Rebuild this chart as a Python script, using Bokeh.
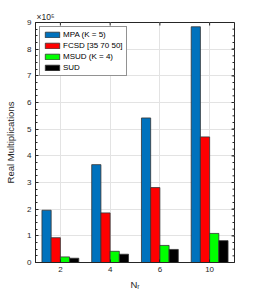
from bokeh.plotting import figure
from bokeh.models import (ColumnDataSource, FixedTicker, Range1d, Title,
                          Legend, LegendItem)
from bokeh.embed import file_html
from bokeh.resources import INLINE

nr_labels = ["2", "4", "6", "10"]
series_names = ["MPA (K = 5)", "FCSD [35 70 50]", "MSUD (K = 4)", "SUD"]
mpa = [1.96e5, 3.67e5, 5.42e5, 8.84e5]
fcsd = [0.93e5, 1.86e5, 2.81e5, 4.71e5]
msud = [0.21e5, 0.42e5, 0.64e5, 1.09e5]
sud = [0.16e5, 0.31e5, 0.49e5, 0.82e5]
colors = ["#0072BD", "#FF0000", "#00FF00", "#000000"]
y_ticks = [0, 1, 2, 3, 4, 5, 6, 7, 8, 9]
scale = 1e5

FONT = "Liberation Sans"
AX = "#262626"

p = figure(width=259, height=295, output_backend="svg", toolbar_location=None,
           x_range=Range1d(0.5, 4.5), y_range=Range1d(0, 9e5),
           min_border_left=35, min_border_right=25, min_border_top=22,
           min_border_bottom=33)
p.background_fill_color = "white"
p.border_fill_color = "white"
p.outline_line_color = AX
p.outline_line_width = 1

xs = list(range(1, len(nr_labels) + 1))
bw = 0.185
offsets = [-1.5, -0.5, 0.5, 1.5]
renderers = []
for vals, off, col in zip([mpa, fcsd, msud, sud], offsets, colors):
    src = ColumnDataSource(dict(x=[x + off * bw for x in xs], top=vals))
    r = p.vbar(x="x", top="top", width=bw, bottom=0, source=src,
               fill_color=col, line_color="#333333", line_width=0.8)
    renderers.append(r)

major_y = [t * scale for t in y_ticks]
minor_y = [t * scale / 4 for t in range(0, 4 * y_ticks[-1] + 1)]

# axes
xa = p.xaxis[0]
xa.ticker = FixedTicker(ticks=xs)
xa.major_label_overrides = {x: l for x, l in zip(xs, nr_labels)}
xa.axis_label = "Nᵣ"
xa.axis_label_text_font = FONT
xa.axis_label_text_font_size = "9.5px"
xa.axis_label_text_font_style = "normal"
xa.axis_label_text_color = AX
xa.axis_label_standoff = 4

ya = p.yaxis[0]
ya.ticker = FixedTicker(ticks=major_y, minor_ticks=minor_y)
ya.major_label_overrides = {t * scale: str(t) for t in y_ticks}
ya.axis_label = "Real Multiplications"
ya.axis_label_text_font = FONT
ya.axis_label_text_font_size = "9.5px"
ya.axis_label_text_font_style = "normal"
ya.axis_label_text_color = AX
ya.axis_label_standoff = 8

for ax in [xa, ya]:
    ax.axis_line_color = AX
    ax.major_tick_line_color = AX
    ax.minor_tick_line_color = AX
    ax.major_tick_in = 3
    ax.major_tick_out = 0
    ax.minor_tick_in = 2
    ax.minor_tick_out = 0
    ax.major_label_text_font = FONT
    ax.major_label_text_font_size = "8px"
    ax.major_label_text_color = AX
    ax.major_label_standoff = 4
xa.minor_tick_line_color = None

# mirrored ticks on top and right (inward), derived from tick arrays
xr0, xr1 = p.x_range.start, p.x_range.end
yr1 = p.y_range.end
px_x = (xr1 - xr0) / 199.0
px_y = yr1 / 240.0
p.segment(x0=[xr1] * len(major_y), y0=major_y, x1=[xr1 - 3 * px_x] * len(major_y),
          y1=major_y, line_color=AX, line_width=1)
p.segment(x0=[xr1] * len(minor_y), y0=minor_y, x1=[xr1 - 2 * px_x] * len(minor_y),
          y1=minor_y, line_color=AX, line_width=1)
p.segment(x0=xs, y0=[yr1] * len(xs), x1=xs, y1=[yr1 - 3 * px_y] * len(xs),
          line_color=AX, line_width=1)

p.xgrid.ticker = FixedTicker(ticks=xs)
p.ygrid.ticker = FixedTicker(ticks=major_y)
p.xgrid.grid_line_color = "#e3e3e3"
p.ygrid.grid_line_color = "#e3e3e3"

# multiplier
t = Title(text="×10⁵", align="left", offset=1, standoff=2, text_font=FONT,
          text_font_size="8.5px", text_font_style="normal", text_color=AX)
p.add_layout(t, "above")

legend = Legend(items=[LegendItem(label=n, renderers=[r]) for n, r in zip(series_names, renderers)],
                location="top_left", orientation="vertical")
legend.label_text_font = FONT
legend.label_text_font_size = "8px"
legend.label_text_color = "#000000"
legend.glyph_width = 18
legend.glyph_height = 7
legend.label_height = 9
legend.spacing = 2
legend.padding = 3
legend.margin = 4
legend.label_standoff = 2
legend.border_line_color = AX
legend.border_line_width = 1
legend.background_fill_alpha = 1
p.add_layout(legend, "center")

open("out.html", "w").write(file_html(p, INLINE))
